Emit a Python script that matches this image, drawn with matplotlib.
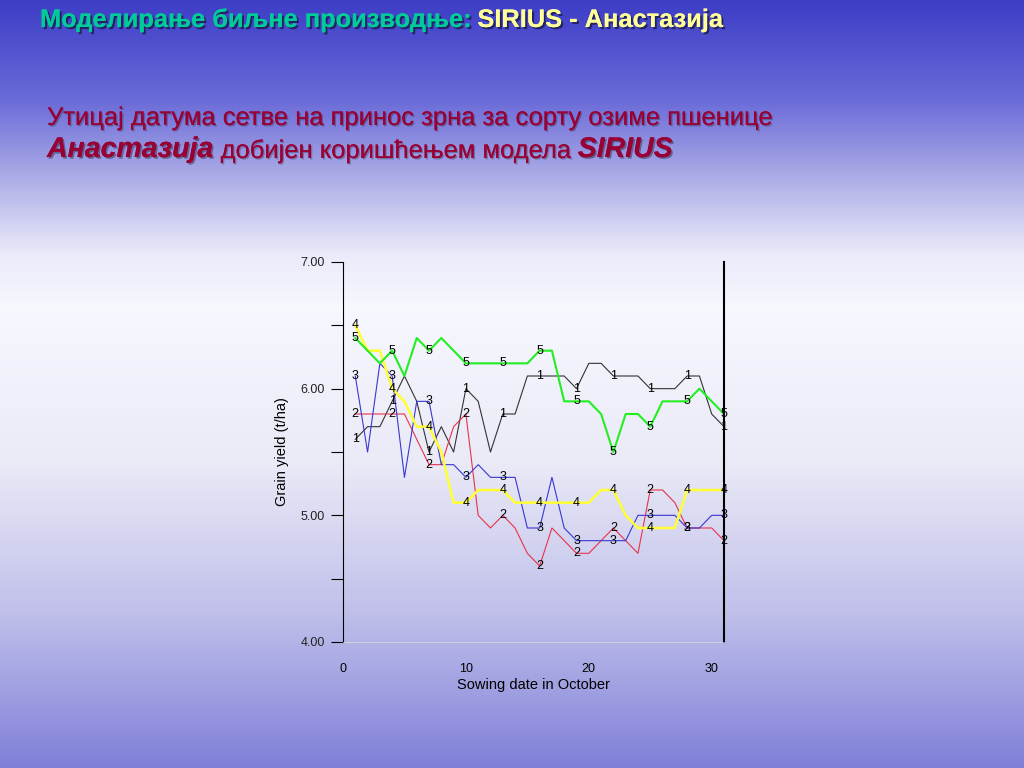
import matplotlib
matplotlib.use('Agg')
import matplotlib.pyplot as plt
import matplotlib.patheffects as pe
import numpy as np

plt.rcParams['font.family'] = ['Liberation Sans', 'DejaVu Sans']

# sowing date in October (days)
days = list(range(1, 32))

# grain yield (t/ha) for the five simulated series
yield_1 = [5.6, 5.7, 5.7, 5.9, 6.1, 5.9, 5.5, 5.7, 5.5, 6.0, 5.9, 5.5, 5.8, 5.8, 6.1, 6.1,
           6.1, 6.1, 6.0, 6.2, 6.2, 6.1, 6.1, 6.1, 6.0, 6.0, 6.0, 6.1, 6.1, 5.8, 5.7]
yield_2 = [5.8, 5.8, 5.8, 5.8, 5.8, 5.6, 5.4, 5.4, 5.7, 5.8, 5.0, 4.9, 5.0, 4.9, 4.7, 4.6,
           4.9, 4.8, 4.7, 4.7, 4.8, 4.9, 4.8, 4.7, 5.2, 5.2, 5.1, 4.9, 4.9, 4.9, 4.8]
yield_3 = [6.1, 5.5, 6.2, 6.1, 5.3, 5.9, 5.9, 5.4, 5.4, 5.3, 5.4, 5.3, 5.3, 5.3, 4.9, 4.9,
           5.3, 4.9, 4.8, 4.8, 4.8, 4.8, 4.8, 5.0, 5.0, 5.0, 5.0, 4.9, 4.9, 5.0, 5.0]
yield_4 = [6.5, 6.3, 6.3, 6.0, 5.9, 5.7, 5.7, 5.5, 5.1, 5.1, 5.2, 5.2, 5.2, 5.1, 5.1, 5.1,
           5.1, 5.1, 5.1, 5.1, 5.2, 5.2, 5.0, 4.9, 4.9, 4.9, 4.9, 5.2, 5.2, 5.2, 5.2]
yield_5 = [6.4, 6.3, 6.2, 6.3, 6.1, 6.4, 6.3, 6.4, 6.3, 6.2, 6.2, 6.2, 6.2, 6.2, 6.2, 6.3,
           6.3, 5.9, 5.9, 5.9, 5.8, 5.5, 5.8, 5.8, 5.7, 5.9, 5.9, 5.9, 6.0, 5.9, 5.8]

series_names = ['1', '2', '3', '4', '5']
series_vals = [yield_1, yield_2, yield_3, yield_4, yield_5]
series_cols = ['#333333', '#e8334a', '#3838d0', '#ffff33', '#22ee22']
series_lw = [0.8, 0.8, 0.8, 1.8, 1.5]

fig = plt.figure(figsize=(10.24, 7.68), dpi=100)

# slide background gradient
bg = fig.add_axes([0, 0, 1, 1], zorder=-10)
stops = [0.0, 0.13, 0.22, 0.33, 0.40, 0.6, 0.8, 1.0]
r = [0.24, 0.42, 0.65, 0.92, 0.97, 0.92, 0.75, 0.50]
b = [0.78, 0.85, 0.90, 0.98, 1.00, 0.97, 0.92, 0.85]
yy = np.linspace(0, 1, 400)
grad = np.zeros((400, 1, 3))
grad[:, 0, 0] = np.interp(yy, stops, r)
grad[:, 0, 1] = np.interp(yy, stops, r)
grad[:, 0, 2] = np.interp(yy, stops, b)
bg.imshow(grad, aspect='auto', extent=[0, 1, 1, 0])
bg.axis('off')

title_fx = [pe.withSimplePatchShadow(offset=(1.5, -1.5), shadow_rgbFace='black', alpha=0.5), pe.Normal()]
sub_fx = [pe.withSimplePatchShadow(offset=(1, -1), shadow_rgbFace='black', alpha=0.25), pe.Normal()]
bold_fx = [pe.withSimplePatchShadow(offset=(1.2, -1.2), shadow_rgbFace='black', alpha=0.35), pe.Normal()]


def chain(first_xy, pieces):
    # place text pieces one after another on the same line
    prev = None
    for txt, fx, kw in pieces:
        if prev is None:
            prev = fig.text(first_xy[0], first_xy[1], txt, va='baseline', path_effects=fx, **kw)
        else:
            prev = bg.annotate(txt, xy=(1, 0), xycoords=prev, va='bottom', ha='left',
                               path_effects=fx, **kw)
    return prev


chain((40 / 1024, 1 - 27 / 768), [
    ('Моделирање биљне производње: ', title_fx, dict(fontsize=18.3, fontweight='bold', color='#00cc99')),
    ('SIRIUS - Анастазија', title_fx, dict(fontsize=18.3, fontweight='bold', color='#ffff99')),
])
chain((47 / 1024, 1 - 125 / 768), [
    ('Утицај датума сетве на принос зрна за сорту озиме пшенице', sub_fx,
     dict(fontsize=18.4, color='#990033')),
])
chain((47 / 1024, 1 - 157 / 768), [
    ('Анастазија', bold_fx, dict(fontsize=20.5, fontweight='bold', fontstyle='italic', color='#990033')),
    (' добијен коришћењем модела ', sub_fx, dict(fontsize=18.4, color='#990033')),
    ('SIRIUS', bold_fx, dict(fontsize=20.5, fontweight='bold', fontstyle='italic', color='#990033')),
])

ax = fig.add_axes([343 / 1024, 1 - 642 / 768, 381 / 1024, 380 / 768])
ax.patch.set_alpha(0)

for name, vals, col, lw in zip(series_names, series_vals, series_cols, series_lw):
    ax.plot(days, vals, color=col, lw=lw, zorder=2)
    for d, v in zip(days[::3], vals[::3]):
        ax.text(d, v, name, fontsize=9, ha='center', va='center', color='black', zorder=3)

ax.set_xlim(0, 31)
ax.set_ylim(4, 7)
ax.set_yticks([4, 5, 6, 7])
ax.set_yticklabels(['4.00', '5.00', '6.00', '7.00'])
ax.set_yticks([4.5, 5.5, 6.5], minor=True)
ax.set_xticks([0, 10, 20, 30])
ax.tick_params(axis='y', which='both', length=9, width=0.8, labelsize=9, pad=4, colors='black')
ax.tick_params(axis='y', which='major', labelcolor='#222222')
ax.tick_params(axis='x', length=0, labelsize=9, pad=15)
ax.spines['top'].set_visible(False)
ax.spines['bottom'].set_color('#dddddd')
ax.spines['bottom'].set_linewidth(0.5)
ax.spines['right'].set_linewidth(1.5)
ax.spines['left'].set_linewidth(0.8)
ax.set_ylabel('Grain yield (t/ha)', fontsize=10.5, labelpad=8)
ax.set_xlabel('Sowing date in October', fontsize=10.5, labelpad=2)

fig.savefig('out.png', dpi=100)
